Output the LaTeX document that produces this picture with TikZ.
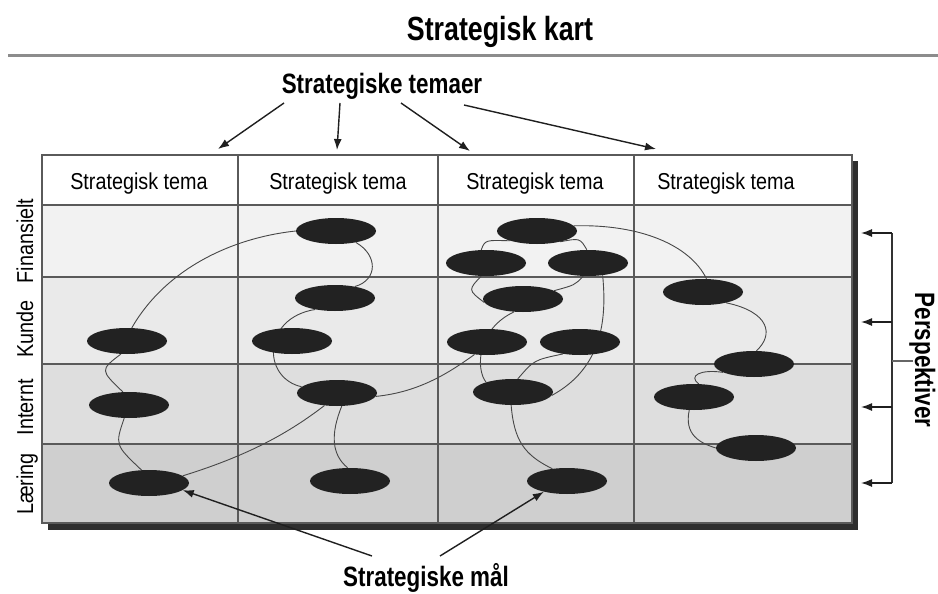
\documentclass[tikz,border=0pt]{standalone}
\usepackage{fontspec}
\setmainfont{Liberation Sans}
\newfontfamily\headfont[FakeStretch=0.8]{Liberation Sans}
\newfontfamily\cellfont[FakeStretch=0.86]{Liberation Sans}
\usetikzlibrary{shapes.geometric,arrows.meta}
\definecolor{rowfin}{HTML}{F2F2F2}
\definecolor{rowkun}{HTML}{EAEAEA}
\definecolor{rowint}{HTML}{DEDEDE}
\definecolor{rowlae}{HTML}{CFCFCF}
\definecolor{goalfill}{HTML}{222222}
\definecolor{gridcol}{HTML}{5A5A5A}
\pgfdeclarelayer{table}
\pgfdeclarelayer{links}
\pgfsetlayers{table,links,main}
\tikzset{
  bigtitle/.style={font={\headfont\bfseries\fontsize{33.5}{36}\selectfont}, inner sep=0pt},
  sublabel/.style={font={\headfont\bfseries\fontsize{28}{30}\selectfont}, inner sep=0pt},
  headtext/.style={font={\cellfont\fontsize{23}{25}\selectfont}, inner sep=0pt},
  sidetext/.style={font={\cellfont\fontsize{23}{25}\selectfont}, inner sep=0pt,
    text height=16.5pt, text depth=4.5pt, rotate=90},
  goal/.style={ellipse, fill=goalfill, minimum width=80pt, minimum height=26pt, inner sep=0pt},
  gridline/.style={draw=gridcol, line width=1.2pt},
  link/.style={draw=black!72, line width=0.9pt},
  pointer/.style={draw=black!88, line width=1.4pt, -{Latex[length=11pt,width=8pt]}},
}
\begin{document}
\begin{tikzpicture}[x=1pt,y=-1pt]
\useasboundingbox (0,0) rectangle (938,594);

% table with drop shadow and shaded perspective rows
\begin{pgfonlayer}{table}
  \fill[white] (0,0) rectangle (938,594);
  \fill[black!82] (48,161) rectangle (858,530);
  \fill[white]  (42,155) rectangle (852,205);
  \fill[rowfin] (42,205) rectangle (852,277);
  \fill[rowkun] (42,277) rectangle (852,364);
  \fill[rowint] (42,364) rectangle (852,444);
  \fill[rowlae] (42,444) rectangle (852,523);
  \draw[gridline] (42,155) rectangle (852,523);
  \foreach \yy in {205,277,364,444} \draw[gridline] (42,\yy) -- (852,\yy);
  \foreach \xx in {238,438,634} \draw[gridline] (\xx,155) -- (\xx,523);
\end{pgfonlayer}

% title and rule below it
\node[bigtitle, anchor=base] (title) at (500,41) {Strategisk kart};
\draw[line width=3pt, black!45] (8,56) -- (938,56);

% column headers
\node[headtext, anchor=base] (h1) at (139,189) {Strategisk tema};
\node[headtext, anchor=base] (h2) at (338,189) {Strategisk tema};
\node[headtext, anchor=base] (h3) at (535,189) {Strategisk tema};
\node[headtext, anchor=base] (h4) at (726,189) {Strategisk tema};

% perspective labels
\node[sidetext] (pfin) at (27,241) {Finansielt};
\node[sidetext] (pkun) at (27,329) {Kunde};
\node[sidetext] (pint) at (27,407) {Internt};
\node[sidetext] (plae) at (27,484) {Læring};

% strategic goals
\node[goal] (A1) at (127,341) {};
\node[goal] (A2) at (129,405) {};
\node[goal] (A3) at (149,483) {};
\node[goal] (B1) at (336,231) {};
\node[goal] (B2) at (335,298) {};
\node[goal] (B3) at (292,341) {};
\node[goal] (B4) at (337,393) {};
\node[goal] (B5) at (350,481) {};
\node[goal] (C1) at (537,231) {};
\node[goal] (C2) at (486,263) {};
\node[goal] (C3) at (588,263) {};
\node[goal] (C4) at (523,299) {};
\node[goal] (C5) at (487,342) {};
\node[goal] (C6) at (580,342) {};
\node[goal] (C7) at (513,392) {};
\node[goal] (C8) at (567,481) {};
\node[goal] (D1) at (703,292) {};
\node[goal] (D2) at (754,364) {};
\node[goal] (D3) at (694,397) {};
\node[goal] (D4) at (756,448) {};

% cause and effect links
\begin{pgfonlayer}{links}
  \draw[link] (A1.70) .. controls (165,270) and (230,238) .. (B1.west);
  \draw[link] (B1.-30) .. controls (378,255) and (378,280) .. (B2.30);
  \draw[link] (B2.210) .. controls (262,318) and (262,378) .. (B4.170);
  \draw[link] (A1.245) .. controls (100,370) .. (A2.115);
  \draw[link] (A2.250) .. controls (115,445) .. (A3.120);
  \draw[link] (A3.12) .. controls (250,455) and (290,432) .. (B4.225);
  \draw[link] (B4.290) .. controls (330,435) and (332,455) .. (B5.100);
  \draw[link] (B4.-5) .. controls (420,392) and (450,372) .. (C5.225);
  \draw[link] (C1.8) .. controls (640,224) and (690,245) .. (D1.75);
  \draw[link] (D1.-25) .. controls (770,312) and (774,335) .. (D2.80);
  \draw[link] (D2.195) .. controls (700,369) and (688,376) .. (D3.70);
  \draw[link] (D3.250) .. controls (684,435) and (700,443) .. (D4.180);
  \draw[link] (C1.200) .. controls (485,240) .. (C2.110);
  \draw[link] (C1.-25) .. controls (580,238) .. (C3.95);
  \draw[link] (C2.-110) .. controls (468,290) .. (C4.185);
  \draw[link] (C3.250) .. controls (575,285) .. (C4.15);
  \draw[link] (C3.-40) .. controls (607,320) and (602,368) .. (C7.-5);
  \draw[link] (C4.235) .. controls (476,330) and (476,370) .. (C7.160);
  \draw[link] (C6.215) .. controls (534,360) .. (C7.70);
  \draw[link] (C7.262) .. controls (514,440) and (524,455) .. (C8.140);
\end{pgfonlayer}

% strategic themes label and its arrows
\node[sublabel, anchor=base] (temaer) at (382,93) {Strategiske temaer};
\coordinate (t1s) at (284,103);
\coordinate (t2s) at (340,103);
\coordinate (t3s) at (401,103);
\coordinate (t4s) at (464,105);
\coordinate (t1e) at (218,149);
\coordinate (t2e) at (337,150);
\coordinate (t3e) at (470,151);
\coordinate (t4e) at (656,149);
\draw[pointer] (t1s) -- (t1e);
\draw[pointer] (t2s) -- (t2e);
\draw[pointer] (t3s) -- (t3e);
\draw[pointer] (t4s) -- (t4e);

% strategic goals label and its arrows
\node[sublabel, anchor=base] (maal) at (426,586) {Strategiske mål};
\coordinate (m1s) at (372,556);
\coordinate (m2s) at (440,556);
\draw[pointer] (m1s) -- (A3.-12);
\draw[pointer] (m2s) -- (C8.205);

% perspectives bracket
\coordinate (b1) at (892,233);
\coordinate (b2) at (892,322);
\coordinate (b3) at (892,407);
\coordinate (b4) at (892,483);
\coordinate (bm) at (892,361);
\coordinate (e1) at (861,233);
\coordinate (e2) at (861,322);
\coordinate (e3) at (861,407);
\coordinate (e4) at (861,483);
\coordinate (stub) at (913,361);
\draw[line width=1.4pt, black!80] (b1) -- (b4);
\draw[line width=1.2pt, black!60] (bm) -- (stub);
\draw[pointer] (b1) -- (e1);
\draw[pointer] (b2) -- (e2);
\draw[pointer] (b3) -- (e3);
\draw[pointer] (b4) -- (e4);
\node[sublabel, rotate=-90, text height=20pt, text depth=6pt] (persp) at (922,360) {Perspektiver};
\end{tikzpicture}
\end{document}
